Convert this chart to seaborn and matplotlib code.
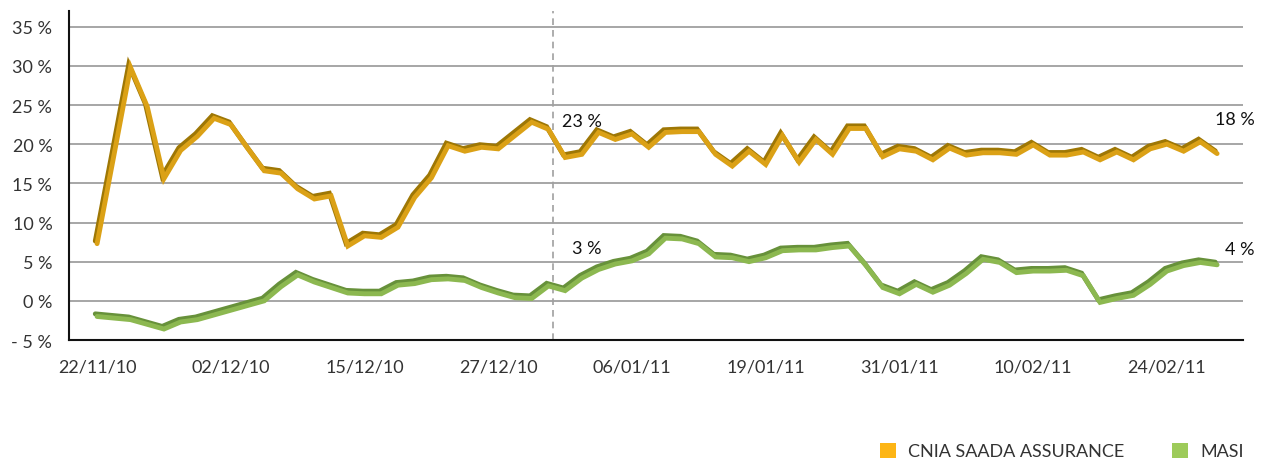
import numpy as np
import pandas as pd
import seaborn as sns
import matplotlib.pyplot as plt
import matplotlib.patheffects as pe
from matplotlib.patches import Patch

# daily performance (%), 68 trading days from 22/11/10
cnia = [7.3, 18.5, 29.8, 24.8, 15.6, 19.2, 21.0, 23.3, 22.5, 19.5,
        16.6, 16.3, 14.3, 13.0, 13.4, 7.0, 8.3, 8.1, 9.4, 13.2,
        15.7, 19.8, 19.1, 19.6, 19.4, 21.1, 22.8, 21.9, 18.3, 18.7,
        21.5, 20.6, 21.3, 19.6, 21.5, 21.6, 21.6, 18.7, 17.2, 19.1,
        17.4, 21.1, 17.7, 20.6, 18.7, 22.0, 22.0, 18.4, 19.4, 19.1,
        18.0, 19.5, 18.6, 18.9, 18.9, 18.7, 19.9, 18.6, 18.6, 19.0,
        18.0, 19.0, 18.0, 19.4, 20.0, 19.1, 20.3, 18.8]
masi = [-2.0, -2.2, -2.4, -3.0, -3.6, -2.7, -2.4, -1.8, -1.2, -0.6,
        0.0, 1.8, 3.3, 2.4, 1.7, 1.0, 0.9, 0.9, 2.0, 2.2,
        2.7, 2.8, 2.6, 1.7, 1.0, 0.4, 0.3, 1.9, 1.3, 2.9,
        4.0, 4.7, 5.1, 6.0, 8.0, 7.9, 7.3, 5.6, 5.5, 5.0,
        5.5, 6.4, 6.5, 6.5, 6.8, 7.0, 4.5, 1.7, 0.9, 2.1,
        1.1, 2.0, 3.5, 5.3, 4.9, 3.6, 3.8, 3.8, 3.9, 3.2,
        -0.2, 0.3, 0.7, 2.1, 3.8, 4.5, 4.9, 4.6]

tick_labels = ["22/11/10", "02/12/10", "15/12/10", "27/12/10", "06/01/11",
               "19/01/11", "31/01/11", "10/02/11", "24/02/11"]
ytick_vals = [-5, 0, 5, 10, 15, 20, 25, 30, 35]
ytick_labels = ["- 5 %", "0 %", "5 %", "10 %", "15 %", "20 %", "25 %", "30 %", "35 %"]

note_texts = ["23 %", "3 %", "18 %", "4 %"]
note_x = [27.8, 28.4, 66.9, 67.5]
note_y = [23.0, 6.7, 23.2, 6.6]
year_end = 27.3

gold, gold_dark, gold_leg = "#DBA116", "#9E7705", "#FDB515"
green, green_dark, green_leg = "#8CB850", "#67913A", "#9DCB5A"

sns.set_theme(style="white")
plt.rcParams["font.family"] = ["Lato", "DejaVu Sans"]

df = pd.DataFrame({"day": np.arange(len(cnia)), "cnia": cnia, "masi": masi})

fig = plt.figure(figsize=(12.66, 4.64), dpi=100)
ax = fig.add_axes([69 / 1266, 1 - 341 / 464, (1243 - 69) / 1266, (341 - 12) / 464])

for col, c, cd in [("cnia", gold, gold_dark), ("masi", green, green_dark)]:
    sns.lineplot(data=df, x="day", y=col, ax=ax, color=c, linewidth=3.5,
                 solid_joinstyle="miter",
                 path_effects=[pe.SimpleLineShadow(offset=(-1.3, 1.9), shadow_color=cd, alpha=1),
                               pe.Normal()])

ax.axvline(year_end, color="#A0A0A0", lw=1.2, ls=(0, (4, 3)), zorder=1)

for t, x, y in zip(note_texts, note_x, note_y):
    ax.text(x, y, t, fontsize=13, color="#111111", va="center", ha="left")

ax.set_xlim(-1.68, 68.55)
ax.set_ylim(-5, 37)
ax.set_xticks(range(0, len(cnia), 8))
ax.set_xticklabels(tick_labels)
ax.set_yticks(ytick_vals)
ax.set_yticklabels(ytick_labels)
ax.set_xlabel("")
ax.set_ylabel("")
ax.tick_params(axis="both", length=0, labelsize=13, labelcolor="#333333")
ax.tick_params(axis="y", pad=12)
ax.tick_params(axis="x", pad=13)

ax.yaxis.grid(True, color="#A6A6A6", lw=1.4)
ax.xaxis.grid(False)
ax.set_axisbelow(True)
for s in ["top", "right"]:
    ax.spines[s].set_visible(False)
for s in ["left", "bottom"]:
    ax.spines[s].set_color("#111111")
    ax.spines[s].set_linewidth(1.5)

handles = [Patch(facecolor=gold_leg, edgecolor="none"), Patch(facecolor=green_leg, edgecolor="none")]
fig.legend(handles, ["CNIA SAADA ASSURANCE", "MASI"], loc="center right",
           bbox_to_anchor=(1244 / 1266, 1 - 452 / 464), ncol=2, frameon=False,
           fontsize=13, labelcolor="#333333", handlelength=0.9, handleheight=0.9,
           handletextpad=0.7, columnspacing=2.6, borderpad=0, borderaxespad=0)

fig.savefig("out.png", dpi=100)
